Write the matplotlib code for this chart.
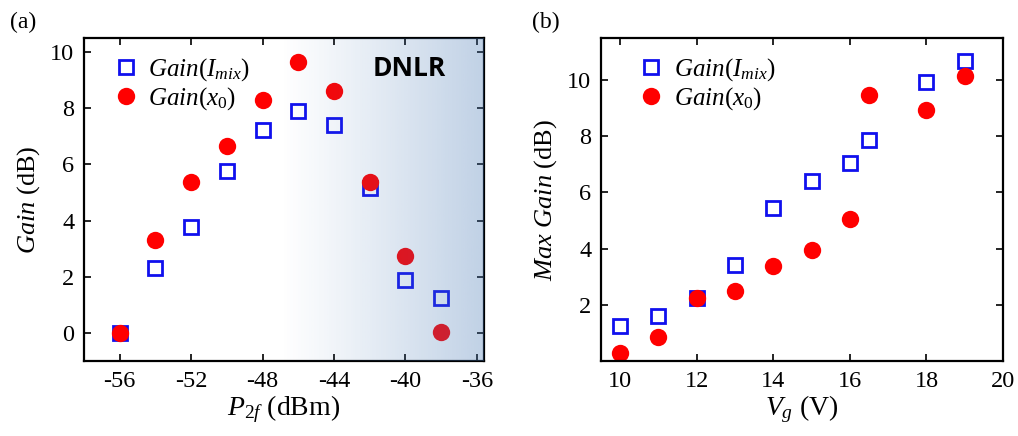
import matplotlib
matplotlib.use('Agg')
import numpy as np
import matplotlib.pyplot as plt

plt.rcParams['font.family'] = 'Liberation Serif'
plt.rcParams['mathtext.fontset'] = 'custom'
plt.rcParams['mathtext.rm'] = 'Liberation Serif'
plt.rcParams['mathtext.it'] = 'Liberation Serif:italic'
plt.rcParams['axes.unicode_minus'] = False

# (a) gain vs pump power
p2f = [-56, -54, -52, -50, -48, -46, -44, -42, -40, -38]
gain_imix_a = [0.0, 2.32, 3.78, 5.78, 7.21, 7.89, 7.41, 5.17, 1.90, 1.25]
gain_x0_a = [0.0, 3.30, 5.39, 6.65, 8.31, 9.66, 8.61, 5.39, 2.73, 0.04]

# (b) max gain vs gate voltage
vg = [10, 11, 12, 13, 14, 15, 16, 16.5, 18, 19]
gain_imix_b = [1.25, 1.61, 2.26, 3.41, 5.44, 6.40, 7.06, 7.86, 9.92, 10.69]
gain_x0_b = [0.30, 0.84, 2.23, 2.50, 3.39, 3.96, 5.05, 9.48, 8.93, 10.15]

fig = plt.figure(figsize=(10.18, 4.36), dpi=100)
ax1 = fig.add_axes([84/1018, 1-361/436, 400/1018, 323/436])
ax2 = fig.add_axes([601/1018, 1-361/436, 402/1018, 323/436])

sq = dict(marker='s', ls='none', ms=9.5, mfc='none', mec='#1010ee', mew=2.0)
ci = dict(marker='o', ls='none', ms=12.5, color='#ff0000', mec='none')
lab1 = r'$\mathit{Gain}(I_{mix})$'
lab2 = r'$\mathit{Gain}(x_0)$'

for ax in (ax1, ax2):
    ax.tick_params(direction='in', top=True, right=True, length=5, width=1.2,
                   labelsize=17.5, pad=7)
    for s in ax.spines.values():
        s.set_linewidth(1.6)

ax1.plot(p2f, gain_imix_a, label=lab1, **sq)
ax1.plot(p2f, gain_x0_a, label=lab2, **ci)
ax1.set_xticks(np.arange(-56, -35, 4))
ax1.set_yticks(np.arange(0, 11, 2))

# shaded DNLR region, drawn over the markers
x0g, x1g = -47, -35.6
n = 256
t = np.linspace(0, 1, n)
grad = np.zeros((1, n, 4))
grad[..., 0] = 70/255
grad[..., 1] = 120/255
grad[..., 2] = 180/255
grad[..., 3] = 0.34 * t**1.1
ax1.imshow(grad, extent=[x0g, x1g, -1, 10.5], aspect='auto', zorder=3,
           interpolation='bilinear')
ax1.set_xlim(-58, -35.6)
ax1.set_ylim(-1, 10.5)
ax1.text(-39.8, 9.4, 'DNLR', fontsize=19, fontweight='bold', family='Open Sans',
         ha='center', va='center', zorder=4)

ax1.set_xlabel(r'$P_{2f}$ (dBm)', fontsize=20, labelpad=1)
ax1.set_ylabel(r'$\mathit{Gain}$ (dB)', fontsize=19, labelpad=6)
ax1.legend(loc='upper left', bbox_to_anchor=(0.03, 0.99), frameon=False,
           fontsize=18, handletextpad=0.3, borderaxespad=0.2, labelspacing=0.1,
           handlelength=1.2)

ax2.plot(vg, gain_imix_b, label=lab1, **sq)
ax2.plot(vg, gain_x0_b, label=lab2, **ci)
ax2.set_xlim(9.5, 20)
ax2.set_ylim(0, 11.5)
ax2.set_xticks(np.arange(10, 21, 2))
ax2.set_yticks(np.arange(2, 11, 2))
ax2.set_xlabel(r'$V_g$ (V)', fontsize=20, labelpad=1)
ax2.set_ylabel(r'$\mathit{Max\ Gain}$ (dB)', fontsize=19, labelpad=6)
ax2.legend(loc='upper left', bbox_to_anchor=(0.05, 0.99), frameon=False,
           fontsize=18, handletextpad=0.3, borderaxespad=0.2, labelspacing=0.1,
           handlelength=1.2)

fig.text(10/1018, 1-22/436, '(a)', fontsize=17, va='center')
fig.text(532/1018, 1-22/436, '(b)', fontsize=17, va='center')

plt.savefig('out.png', dpi=100)
